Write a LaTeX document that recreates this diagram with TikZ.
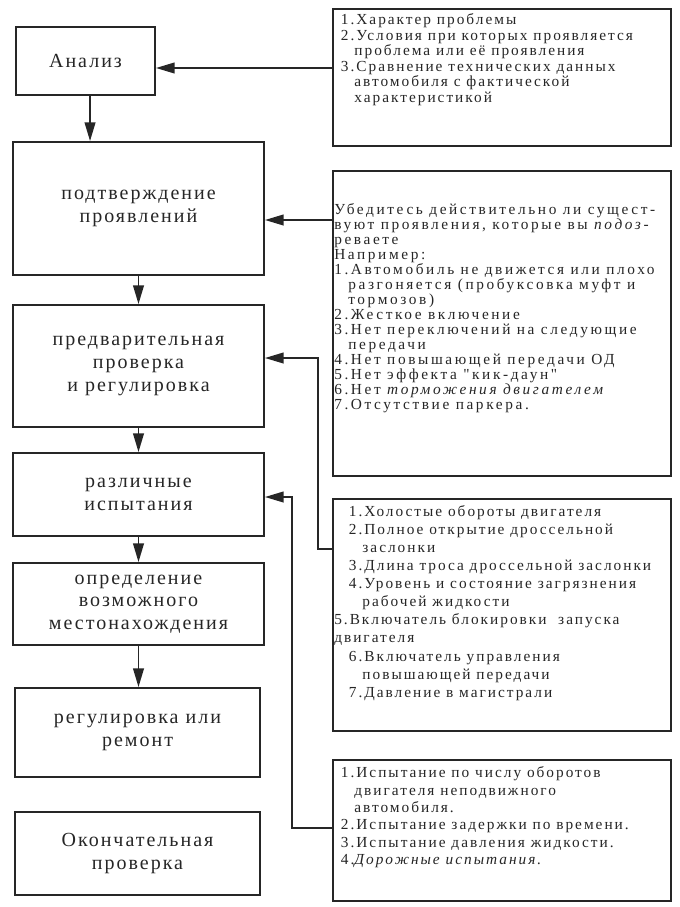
\documentclass[tikz,border=0pt]{standalone}
\usepackage{fontspec}
\setmainfont{Liberation Serif}
\newfontfamily\stagefont[LetterSpace=10]{Liberation Serif}
\newfontfamily\notefont[LetterSpace=13]{Liberation Serif}
\usetikzlibrary{arrows.meta}
\definecolor{ink}{HTML}{262626}

% text of a note box: height, left skip, baselineskip, first baseline, lines
\newcommand{\notebody}[5]{%
  \begin{minipage}[t][#1][t]{253.5pt}%
    \notefont\fontsize{11.5pt}{#3}\selectfont
    \setlength{\leftskip}{#2}%
    \rule{0pt}{#4}#5%
  \end{minipage}}

\begin{document}
\begin{tikzpicture}[x=0.75pt, y=-0.75pt, >={Triangle[length=14pt,width=8pt]},
    stage/.style={draw=ink, line width=1.4pt, align=center, text=ink,
      font={\stagefont\fontsize{15pt}{17pt}\selectfont}, minimum width=188.25pt},
    note/.style={draw=ink, line width=1.4pt, anchor=north west, inner sep=0pt, text=ink},
    link/.style={draw=ink, line width=1.4pt, ->}]

    \useasboundingbox (0,0) rectangle (680,907);
    \fill[white] (0,0) rectangle (680,907);

    % Stages
    \node[stage, minimum width=104.25pt, minimum height=51pt] (analysis) at (85.5,61) {Анализ};
    \node[stage, minimum height=99.75pt] (confirm) at (138.5,208.5) {подтверждение\\проявлений};
    \node[stage, minimum height=91.5pt] (precheck) at (138.5,366) {предварительная\\проверка\\и регулировка};
    \node[stage, minimum height=62.25pt] (tests) at (138.5,494.5) {различные\\испытания};
    \node[stage, minimum height=61.5pt] (locate) at (138.5,604) {определение\\возможного\\местонахождения};
    \node[stage, minimum width=183.75pt, minimum height=66.75pt] (repair) at (137.5,732.5) {регулировка или\\ремонт};
    \node[stage, minimum width=183.75pt, minimum height=62.25pt] (final) at (137.5,853.5) {Окончательная\\проверка};

    % Notes
    \node[note] (problem) at (332,8) {\notebody{102.75pt}{6pt}{11.7pt}{11.6pt}{%
      1.Характер проблемы\\
      2.Условия при которых проявляется\\
      \phantom{2.}проблема или её проявления\\
      3.Сравнение технических данных\\
      \phantom{3.}автомобиля с фактической\\
      \phantom{3.}характеристикой}};
    \node[note] (symptoms) at (332,170) {\notebody{228.75pt}{1pt}{11.25pt}{32.6pt}{%
      \addfontfeature{LetterSpace=17}%
      Убедитесь действительно ли сущест-\\
      вуют проявления, которые вы \textit{подоз-}\\
      реваете\\
      Например:\\
      1.Автомобиль не движется или плохо\\
      \phantom{1.}разгоняется (пробуксовка муфт и\\
      \phantom{1.}тормозов)\\
      2.Жесткое включение\\
      3.Нет переключений на следующие\\
      \phantom{3.}передачи\\
      4.Нет повышающей передачи ОД\\
      5.Нет эффекта "кик-даун"\\
      6.Нет \textit{торможения двигателем}\\
      7.Отсутствие паркера.}};
    \node[note] (checks) at (332,498) {\notebody{174pt}{12pt}{13.6pt}{12.8pt}{%
      1.Холостые обороты двигателя\\
      2.Полное открытие дроссельной\\
      \phantom{2.}заслонки\\
      3.Длина троса дроссельной заслонки\\
      4.Уровень и состояние загрязнения\\
      \phantom{4.}рабочей жидкости\\
      \hspace*{-11pt}5.Включатель блокировки \ запуска\\
      \hspace*{-11pt}двигателя\\
      6.Включатель управления\\
      \phantom{6.}повышающей передачи\\
      7.Давление в магистрали}};
    \node[note] (trials) at (332,759) {\notebody{105.75pt}{6pt}{13pt}{13.5pt}{%
      1.Испытание по числу оборотов\\
      \phantom{1.}двигателя неподвижного\\
      \phantom{1.}автомобиля.\\
      2.Испытание задержки по времени.\\
      3.Испытание давления жидкости.\\
      4.\textit{Дорожные испытания.}}};

    % Flow
    \draw[link] ([xshift=3.4pt]analysis.south) -- ([xshift=3.4pt]analysis.south |- confirm.north);
    \draw[link] (confirm.south) -- (confirm.south |- precheck.north);
    \draw[link] (precheck.south) -- (precheck.south |- tests.north);
    \draw[link] (tests.south) -- (tests.south |- locate.north);
    \draw[link] (locate.south) -- (locate.south |- repair.north);

    % Notes to stages
    \coordinate (bend3) at (318,358);
    \coordinate (bend4) at (292,497);
    \draw[link] (problem.west |- 0,68) -- (analysis.east |- 0,68);
    \draw[link] (symptoms.west |- 0,220) -- (confirm.east |- 0,220);
    \draw[link] (checks.west |- 0,549) -| (bend3) -- (precheck.east |- bend3);
    \draw[link] (trials.west |- 0,828) -| (bend4) -- (tests.east |- bend4);

\end{tikzpicture}
\end{document}
